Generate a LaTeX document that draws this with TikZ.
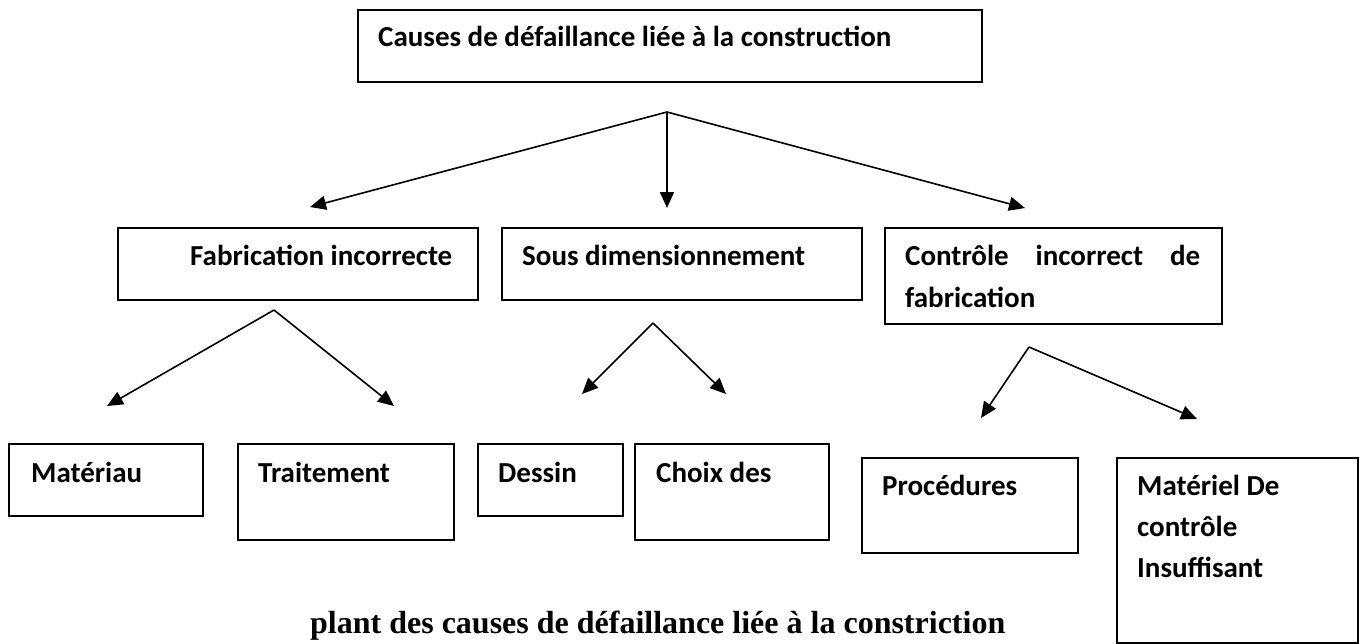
\documentclass[tikz,border=0pt]{standalone}
\usepackage{fontspec}
\usetikzlibrary{arrows.meta}
\newfontfamily\boxfamily{Carlito}
\newfontfamily\capfamily{Liberation Serif}
\tikzset{
  box/.style={draw, line width=1.5pt, inner sep=0pt, anchor=north west},
  lbl/.style={anchor=base west, inner sep=0pt,
    font=\boxfamily\bfseries\fontsize{29}{41}\selectfont},
  arr/.style={line width=1.6pt, -{Triangle[length=16pt,width=14pt]}},
}
\begin{document}
\begin{tikzpicture}[x=1pt,y=-1pt]
\useasboundingbox (0,0) rectangle (1361,643);

% level 0
\node[box, minimum width=624pt, minimum height=72pt] (top) at (357,9) {};
\node[lbl] (toptxt) at (378,46) {Causes de défaillance liée à la construction};

% level 1
\node[box, minimum width=360pt, minimum height=72pt] (fab) at (117,227) {};
\node[lbl] (fabtxt) at (190,265) {Fabrication incorrecte};
\node[box, minimum width=360pt, minimum height=72pt] (sous) at (501,227) {};
\node[lbl] (soustxt) at (522,265) {Sous dimensionnement};
\node[box, minimum width=337pt, minimum height=96pt] (ctrl) at (884,227) {};
\node[lbl] (ctrltxt) at (905,265) {\hbox to 295pt{Contrôle\hfil incorrect\hfil de}};
\node[lbl] (ctrltxtb) at (905,307) {fabrication};

% level 2
\node[box, minimum width=194pt, minimum height=72pt] (mat) at (8,443) {};
\node[lbl] (mattxt) at (31,482) {Matériau};
\node[box, minimum width=216pt, minimum height=96pt] (trait) at (237,443) {};
\node[lbl] (traittxt) at (258,482) {Traitement};
\node[box, minimum width=145pt, minimum height=72pt] (dessin) at (477,443) {};
\node[lbl] (dessintxt) at (498,482) {Dessin};
\node[box, minimum width=194pt, minimum height=96pt] (choix) at (634,443) {};
\node[lbl] (choixtxt) at (656,482) {Choix des};
\node[box, minimum width=216pt, minimum height=95pt] (proc) at (861,457) {};
\node[lbl] (proctxt) at (882,495) {Procédures};
\node[box, minimum width=241pt, minimum height=185pt] (matl) at (1116,457) {};
\node[lbl] (matltxta) at (1137,495) {Matériel De};
\node[lbl] (matltxtb) at (1137,536) {contrôle};
\node[lbl] (matltxtc) at (1137,577) {Insuffisant};

% caption
\node[anchor=base west, inner sep=0pt,
  font=\capfamily\bfseries\fontsize{32}{38}\selectfont] (cap) at (310,633)
  {plant des causes de défaillance liée à la constriction};

% branching points and arrow ends
\coordinate (s0) at (667,112);
\coordinate (t0a) at (310,207);
\coordinate (t0b) at (667,208);
\coordinate (t0c) at (1025,208);

\coordinate (s1) at (274,310);
\coordinate (t1a) at (107,406);
\coordinate (t1b) at (394,406);

\coordinate (s2) at (653,323);
\coordinate (t2a) at (582,394);
\coordinate (t2b) at (726,394);

\coordinate (s3) at (1029,347);
\coordinate (t3a) at (981,418);
\coordinate (t3b) at (1197,419);

\draw[arr] (s0) -- (t0a);
\draw[arr] (s0) -- (t0b);
\draw[arr] (s0) -- (t0c);
\draw[arr] (s1) -- (t1a);
\draw[arr] (s1) -- (t1b);
\draw[arr] (s2) -- (t2a);
\draw[arr] (s2) -- (t2b);
\draw[arr] (s3) -- (t3a);
\draw[arr] (s3) -- (t3b);
\end{tikzpicture}
\end{document}
